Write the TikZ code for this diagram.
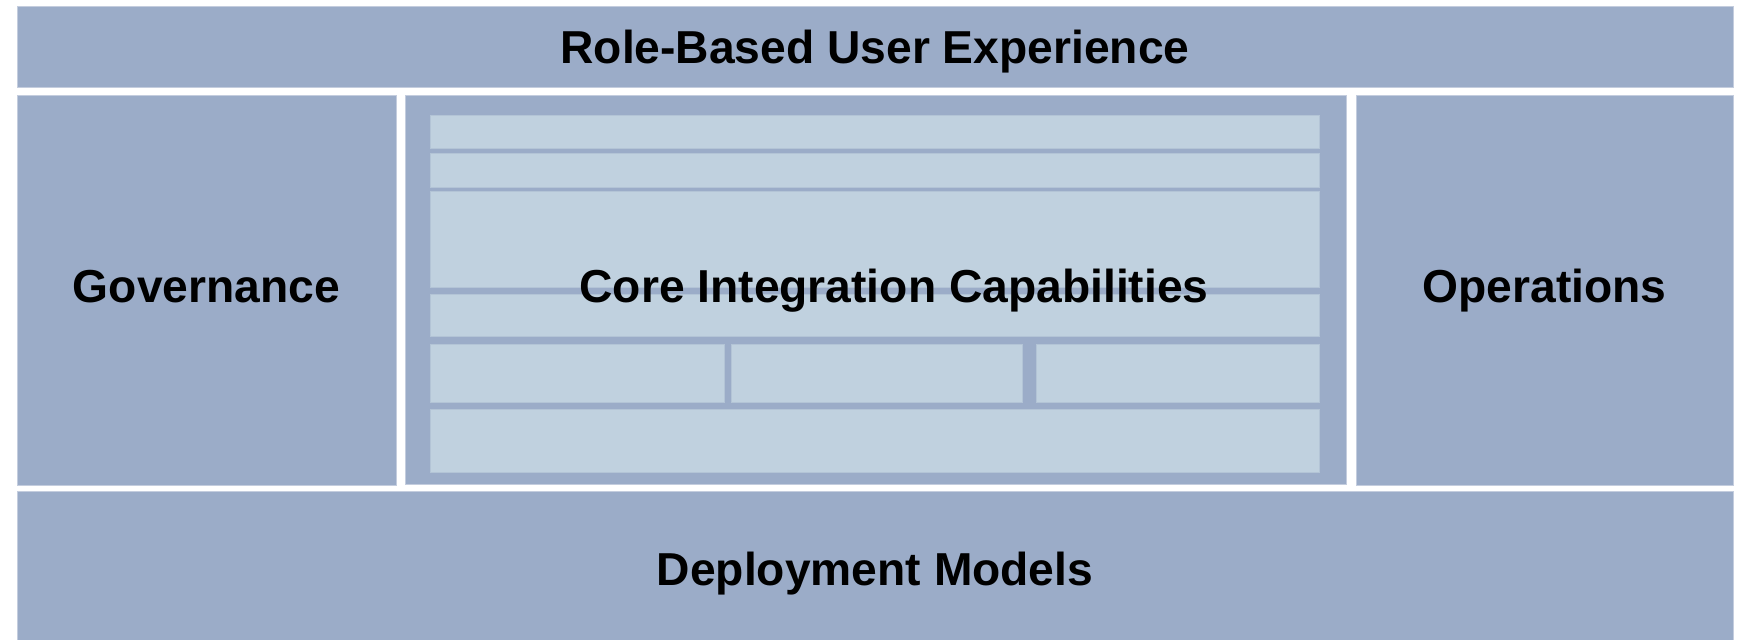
\documentclass[tikz,border=0pt]{standalone}
\usepackage{fontspec}
\setmainfont{Liberation Sans}
\definecolor{slate}{HTML}{9BACC8}
\definecolor{slateedge}{HTML}{C4CDDE}
\definecolor{mist}{HTML}{C0D1DF}
\definecolor{mistedge}{HTML}{B3C4D6}
\begin{document}
\begin{tikzpicture}[x=0.5pt,y=-0.5pt,
  layer/.style={fill=slate, draw=slateedge, line width=0.5pt},
  strip/.style={fill=mist, draw=mistedge, line width=0.4pt},
  title/.style={anchor=base, inner sep=0pt, font=\fontsize{23.1}{28}\selectfont\bfseries}]
  \useasboundingbox (0,0) rectangle (1739,640);
  % outer layers
  \filldraw [layer] (17,7) rectangle (1733,88);
  \filldraw [layer] (17,96) rectangle (396,486);
  \filldraw [layer] (405,96) rectangle (1346,485);
  \filldraw [layer] (1356,96) rectangle (1733,486);
  \filldraw [layer] (17,492) rectangle (1733,642);
  % core strips
  \filldraw [strip] (430,115) rectangle (1319,148);
  \filldraw [strip] (430,153) rectangle (1319,187);
  \filldraw [strip] (430,191) rectangle (1319,287);
  \filldraw [strip] (430,294) rectangle (1319,336);
  \filldraw [strip] (430,344) rectangle (724,402);
  \filldraw [strip] (731,344) rectangle (1022,402);
  \filldraw [strip] (1036,344) rectangle (1319,402);
  \filldraw [strip] (430,409) rectangle (1319,472);
  % labels
  \node [title] (ux) at (875,64) {Role-Based User Experience};
  \node [title] (gov) at (206.5,303) {Governance};
  \node [title] (core) at (894,303) {Core Integration Capabilities};
  \node [title] (ops) at (1544.5,303) {Operations};
  \node [title] (deploy) at (875,585) {Deployment Models};
\end{tikzpicture}
\end{document}
